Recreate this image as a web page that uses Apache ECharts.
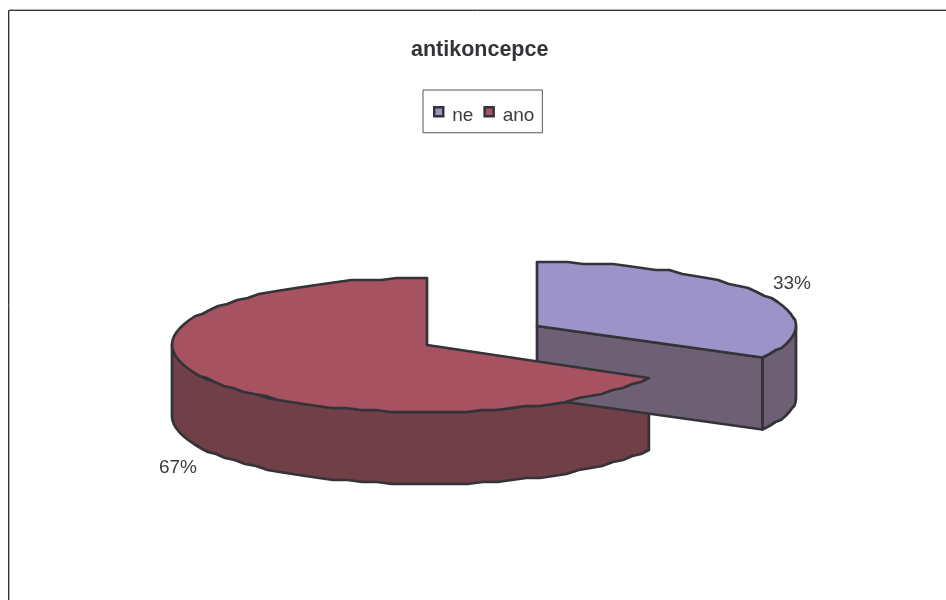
<!DOCTYPE html>
<html><head><meta charset="utf-8">
<style>html,body{margin:0;padding:0;background:#fff}#c{width:946px;height:600px}</style>
<script src="https://cdn.jsdelivr.net/npm/echarts@6/dist/echarts.min.js"></script>
</head><body><div id="c"></div>
<script>
const categories = ['ne', 'ano'];
const values = [33.2, 66.8];
const topColors = ['#9c94c8', '#a65260'];
const sideColors = ['#6e6074', '#703f48'];
const centerX = [537, 427];
const centerY = [326, 345];
const radiusX = [259, 255];
const radiusY = [64, 67];
const labelX = [792, 178];
const labelY = [284, 468];
const depth = 72;
const lineColor = '#333338';
const font = '"Liberation Sans", Arial, sans-serif';

const total = values.reduce((a, b) => a + b, 0);
function snap(v, s) { return Math.round(v / s) * s; }
function rim(i, a0, a1) {
  const n = Math.max(1, Math.round(Math.abs(a1 - a0) / 0.06));
  const pts = [];
  for (let k = 0; k <= n; k++) {
    const a = a0 + (a1 - a0) * k / n;
    let x = centerX[i] + radiusX[i] * Math.sin(a);
    let y = centerY[i] - radiusY[i] * Math.cos(a);
    if (k > 0 && k < n) { y = snap(y, 2); }
    pts.push([x, y]);
  }
  return pts;
}
function down(pts) { return pts.map(p => [p[0], p[1] + depth]); }
function poly(points, fill, z) {
  return { type: 'polygon', z2: z, shape: { points },
    style: { fill, stroke: lineColor, lineWidth: 2.7, lineJoin: 'round' } };
}
function renderSlice(params, api) {
  const i = params.seriesIndex;
  let before = 0;
  for (let k = 0; k < i; k++) before += values[k];
  const a0 = before / total * Math.PI * 2;
  const a1 = (before + api.value(0)) / total * Math.PI * 2;
  const cx = centerX[i], cy = centerY[i];
  const top = rim(i, a0, a1);
  const kids = [];
  const w0 = Math.max(a0, Math.PI / 2), w1 = Math.min(a1, Math.PI * 1.5);
  if (w1 > w0) {
    const wall = rim(i, w0, w1);
    kids.push(poly(wall.concat(down(wall).reverse()), sideColors[i], 1));
  }
  if (a1 < Math.PI) {
    const e = [cx + radiusX[i] * Math.sin(a1), cy - radiusY[i] * Math.cos(a1)];
    kids.push(poly([[cx, cy], e, [e[0], e[1] + depth], [cx, cy + depth]], sideColors[i], 2));
  }
  kids.push(poly([[cx, cy]].concat(top), topColors[i], 3));
  kids.push({ type: 'text', z2: 4, style: {
    text: Math.round(api.value(0) / total * 100) + '%',
    x: labelX[i], y: labelY[i], align: 'center', verticalAlign: 'middle',
    font: '19px ' + font, fill: '#3c3c40' } });
  return { type: 'group', children: kids };
}
const chart = echarts.init(document.getElementById('c'), null, { renderer: 'canvas' });
chart.setOption({
  animation: false,
  backgroundColor: '#ffffff',
  title: { text: 'antikoncepce', left: 411, top: 39,
    padding: 0,
    textStyle: { fontFamily: font, fontSize: 21.5, fontWeight: 'bold', color: '#333338' } },
  legend: {
    data: categories.map(name => ({ name, icon: 'rect' })),
    left: 423, top: 90, orient: 'horizontal', selectedMode: false,
    itemWidth: 9, itemHeight: 9, itemGap: 10,
    padding: [16, 8, 7, 10],
    borderColor: '#555558', borderWidth: 1,
    itemStyle: { borderColor: lineColor, borderWidth: 2.5 },
    formatter: '{t|{name}}',
    textStyle: { rich: { t: { fontFamily: font, fontSize: 19, color: '#3c3c40', padding: [9, 0, 0, 4] } } }
  },
  graphic: [
    { type: 'polyline', shape: { points: [[9.5, 600], [9.5, 9.5], [946, 9.5]] }, silent: true,
      style: { stroke: '#b4b4b4', lineWidth: 1, fill: null } },
    { type: 'polyline', shape: { points: [[8.5, 600], [8.5, 10.5], [946, 10.5]] }, silent: true,
      style: { stroke: '#333338', lineWidth: 1, fill: null } }
  ],
  series: categories.map((name, i) => ({
    type: 'custom', name, coordinateSystem: 'none',
    itemStyle: { color: topColors[i] },
    renderItem: renderSlice,
    data: [[values[i]]]
  }))
});
</script></body></html>
